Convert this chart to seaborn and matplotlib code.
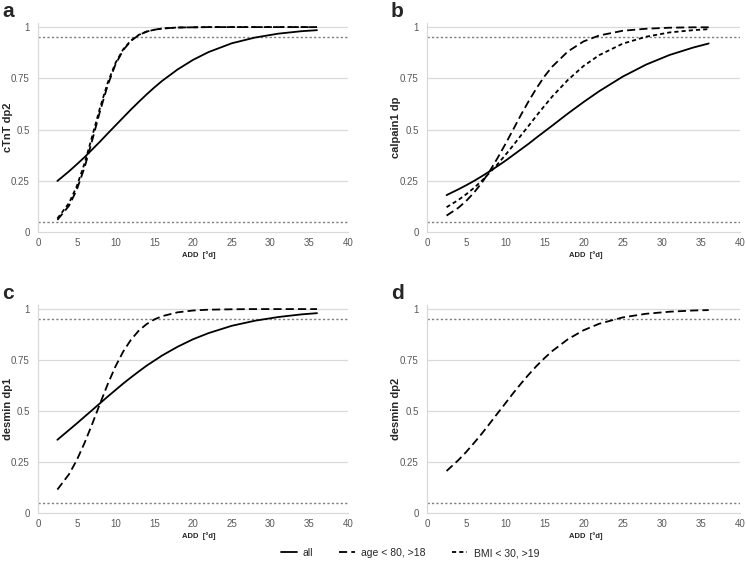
import numpy as np
import pandas as pd
import matplotlib
matplotlib.use("Agg")
import matplotlib.pyplot as plt
from matplotlib.lines import Line2D
import seaborn as sns

# ADD values (x) shared by all curves
add = [2.5, 4, 5, 6, 7, 8, 9, 10, 11, 12, 13, 14, 15, 16, 18, 20, 22, 25, 28, 31, 34, 36]

# panel a - cTnT dp2
a_all = [0.249, 0.296, 0.330, 0.365, 0.403, 0.441, 0.481, 0.520, 0.559, 0.598, 0.635, 0.671,
         0.705, 0.737, 0.793, 0.840, 0.878, 0.921, 0.949, 0.968, 0.980, 0.985]
a_age = [0.059, 0.128, 0.206, 0.314, 0.448, 0.589, 0.717, 0.818, 0.888, 0.933, 0.961, 0.978,
         0.987, 0.993, 0.998, 0.999, 1.0, 1.0, 1.0, 1.0, 1.0, 1.0]
a_bmi = [0.066, 0.141, 0.223, 0.334, 0.468, 0.606, 0.729, 0.825, 0.892, 0.935, 0.962, 0.978,
         0.987, 0.993, 0.998, 0.999, 1.0, 1.0, 1.0, 1.0, 1.0, 1.0]

# panel b - calpain1 dp
b_all = [0.180, 0.208, 0.228, 0.249, 0.272, 0.296, 0.321, 0.347, 0.375, 0.403, 0.431, 0.461,
         0.490, 0.519, 0.578, 0.634, 0.687, 0.758, 0.817, 0.864, 0.900, 0.920]
b_age = [0.080, 0.118, 0.151, 0.192, 0.240, 0.296, 0.360, 0.428, 0.499, 0.571, 0.639, 0.702,
         0.759, 0.807, 0.881, 0.930, 0.959, 0.982, 0.992, 0.997, 0.999, 0.999]
b_bmi = [0.121, 0.156, 0.184, 0.215, 0.250, 0.289, 0.330, 0.375, 0.422, 0.471, 0.519, 0.568,
         0.615, 0.661, 0.742, 0.810, 0.863, 0.919, 0.953, 0.974, 0.985, 0.990]

# panel c - desmin dp1
c_all = [0.359, 0.407, 0.439, 0.472, 0.505, 0.538, 0.571, 0.603, 0.635, 0.665, 0.694, 0.722,
         0.747, 0.772, 0.815, 0.852, 0.882, 0.918, 0.943, 0.961, 0.974, 0.980]
c_age = [0.115, 0.190, 0.259, 0.343, 0.437, 0.536, 0.632, 0.719, 0.792, 0.850, 0.894, 0.926,
         0.949, 0.965, 0.984, 0.993, 0.997, 0.999, 1.0, 1.0, 1.0, 1.0]

# panel d - desmin dp2
d_age = [0.206, 0.259, 0.299, 0.343, 0.389, 0.438, 0.488, 0.537, 0.587, 0.634, 0.679, 0.721,
         0.759, 0.794, 0.852, 0.896, 0.928, 0.959, 0.977, 0.987, 0.993, 0.995]

series_names = ["all", "age < 80, >18", "BMI < 30, >19"]
LW = 1.3
dash_styles = {"all": None, "age < 80, >18": (4.5, 2.3), "BMI < 30, >19": (2.3, 1.7)}

panels = [
    ("a", "cTnT dp2", {"all": a_all, "age < 80, >18": a_age, "BMI < 30, >19": a_bmi}),
    ("b", "calpain1 dp", {"all": b_all, "age < 80, >18": b_age, "BMI < 30, >19": b_bmi}),
    ("c", "desmin dp1", {"all": c_all, "age < 80, >18": c_age}),
    ("d", "desmin dp2", {"age < 80, >18": d_age}),
]

sns.set_style("white")
plt.rcParams['font.family'] = ['Liberation Sans', 'DejaVu Sans']

fig = plt.figure(figsize=(7.46, 5.72), dpi=100)

# axes rectangles in pixels: left, top, right, bottom
rects = [(38, 23, 348, 232), (427, 23, 740, 232), (38, 305, 348, 513), (427, 305, 740, 513)]
letter_pos = [(2, 17), (391, 17), (2, 299), (391, 299)]
ylab_x = [8, 396, 8, 396]       # centre of the y label, px
xlab_x = [199, 586, 199, 586]   # centre of the x label, px
W, H = 746, 572
grid_col = "#d9d9d9"
tick_col = "#595959"

for (letter, ylab, data), (l, t, r, b), (lx, ly), yx, xx in zip(panels, rects, letter_pos, ylab_x, xlab_x):
    ax = fig.add_axes([l / W, 1 - b / H, (r - l) / W, (b - t) / H])
    for name in series_names:
        if name not in data:
            continue
        sns.lineplot(x=add, y=data[name], ax=ax, color="black", linewidth=LW)
        if dash_styles[name] is not None:
            ax.lines[-1].set_dashes(dash_styles[name])
    # 5% and 95% reference lines
    for lev in [0.05, 0.95]:
        ax.axhline(lev, color="#7f7f7f", linewidth=1.0, linestyle=(0, (1.6, 1.6)), zorder=1)
    ax.set_xlim(0, 40)
    ax.set_ylim(0, 1.02)
    ax.set_xticks(range(0, 41, 5))
    ax.set_yticks([0, 0.25, 0.5, 0.75, 1])
    ax.set_yticklabels(["0", "0.25", "0.5", "0.75", "1"])
    for yv in [0.25, 0.5, 0.75, 1]:
        ax.axhline(yv, color=grid_col, linewidth=0.9, zorder=0)
    ax.tick_params(axis="both", labelsize=7, colors=tick_col, length=0)
    ax.tick_params(axis="y", pad=6)
    ax.tick_params(axis="x", pad=4)
    for s in ["top", "right"]:
        ax.spines[s].set_visible(False)
    for s in ["left", "bottom"]:
        ax.spines[s].set_color(grid_col)
        ax.spines[s].set_linewidth(0.9)
    ax.set_xlabel("ADD  [°d]", fontsize=5.5, fontweight="bold", va="top")
    ax.xaxis.set_label_coords((xx - l) / (r - l), -19 / (b - t))
    ax.set_ylabel(ylab, fontsize=8, fontweight="bold", va="center")
    ax.yaxis.set_label_coords((yx - l) / (r - l), 0.5)
    fig.text(lx / W, 1 - ly / H, letter, fontsize=15, fontweight="bold")

handles = []
for name in series_names:
    h = Line2D([0], [0], color="black", linewidth=LW)
    if dash_styles[name] is not None:
        h.set_dashes(dash_styles[name])
    handles.append(h)
fig.legend(handles, series_names, loc="center", bbox_to_anchor=(410 / W, 1 - 553 / H), ncol=3,
           frameon=False, fontsize=7.5, handlelength=1.5, columnspacing=2.5, handletextpad=0.6)

fig.savefig("out.png", dpi=100)
